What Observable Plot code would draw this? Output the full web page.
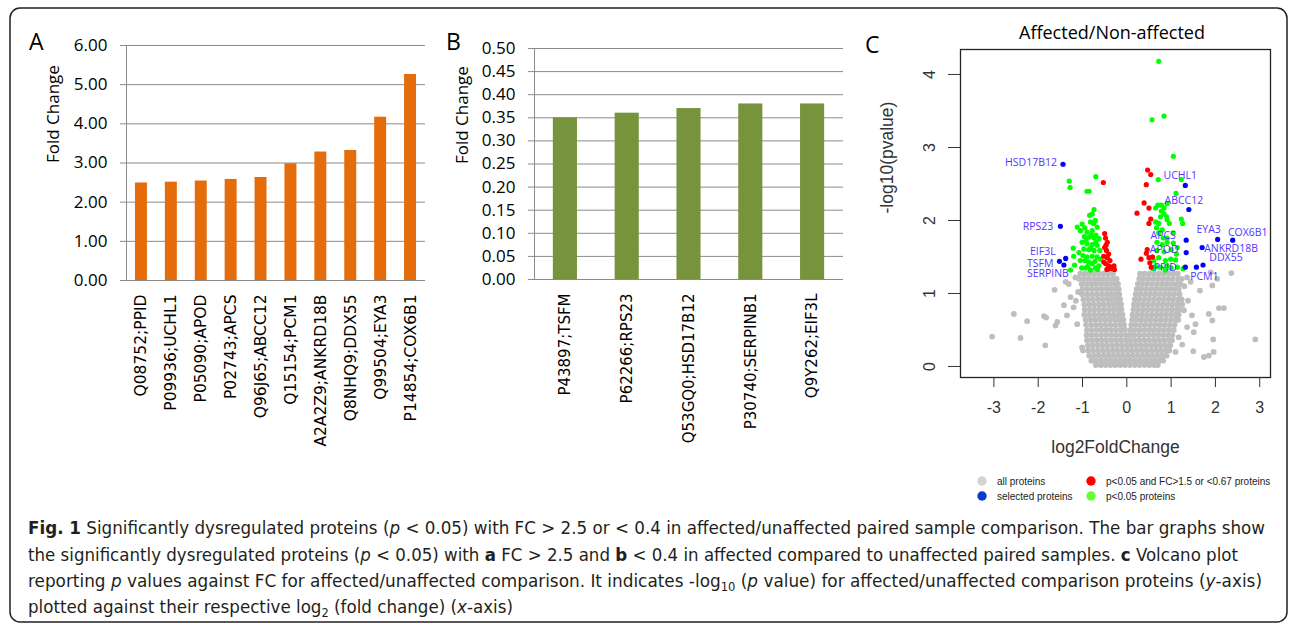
<!DOCTYPE html>
<html><head><meta charset="utf-8">
<script src="https://cdn.jsdelivr.net/npm/d3@7"></script>
<script src="https://cdn.jsdelivr.net/npm/@observablehq/plot@0.6"></script>
<style>
html,body{margin:0;padding:0;background:#fff;}
#root{position:relative;width:1290px;height:626px;overflow:hidden;background:#fff;}
.panel{position:absolute;top:0;}
#overlay{position:absolute;left:0;top:0;pointer-events:none;}
</style></head><body><div id="root"></div>
<script>
// ---------- Panel A : FC > 2.5 ----------
const upCats = ["Q08752;PPID","P09936;UCHL1","P05090;APOD","P02743;APCS","Q96J65;ABCC12","Q15154;PCM1","A2A2Z9;ANKRD18B","Q8NHQ9;DDX55","Q99504;EYA3","P14854;COX6B1"];
const upValues = [2.49,2.51,2.54,2.58,2.63,2.98,3.28,3.32,4.17,5.26];
const upTicks = [0,1,2,3,4,5,6];

// ---------- Panel B : FC < 0.4 ----------
const downCats = ["P43897;TSFM","P62266;RPS23","Q53GQ0;HSD17B12","P30740;SERPINB1","Q9Y262;EIF3L"];
const downValues = [0.35,0.36,0.37,0.38,0.38];
const downTicks = [0,0.05,0.10,0.15,0.20,0.25,0.30,0.35,0.40,0.45,0.50];

// ---------- Panel C : volcano ----------
const volXTicks = [-3,-2,-1,0,1,2,3];
const volYTicks = [0,1,2,3,4];
const selNames = ["HSD17B12","RPS23","EIF3L","TSFM","SERPINB","UCHL1","ABCC12","APCS","APOD","PPID","EYA3","COX6B1","ANKRD18B","DDX55","PCM1"];
const selX = [-1.44,-1.50,-1.38,-1.52,-1.42,1.32,1.40,1.34,1.34,1.32,2.05,2.39,1.70,1.72,1.57];
const selY = [2.77,1.92,1.48,1.44,1.39,2.48,2.15,1.73,1.56,1.36,1.74,1.73,1.63,1.39,1.36];

const greenPts = [
 [-1.30,2.54],[-1.28,2.45],[-0.70,2.60],[-0.90,2.40],[-0.85,2.40],[-0.74,2.15],[-0.78,2.09],[-0.84,2.07],[-0.71,2.00],[-0.82,1.98],
 [-0.67,1.91],[-1.01,1.95],[-1.12,1.91],[-1.05,1.86],[-0.90,1.84],[-0.78,1.86],[-0.96,1.78],[-0.86,1.77],[-0.74,1.76],[-0.63,1.75],
 [-1.01,1.70],[-0.90,1.68],[-0.78,1.67],[-0.67,1.66],[-1.21,1.62],[-0.97,1.61],[-0.86,1.60],[-0.74,1.59],[-0.61,1.59],[-1.20,1.51],
 [-0.99,1.52],[-0.90,1.50],[-0.78,1.51],[-0.67,1.50],[-0.59,1.47],[-1.18,1.39],[-0.93,1.35],[-0.78,1.41],[-0.71,1.35],[-0.63,1.38],
 [-1.27,1.32],[-0.82,1.32],[-1.05,1.45],[-0.86,1.43],[-0.95,1.90],[-0.70,1.80],[-0.92,1.72],[-0.70,1.70],[-0.82,1.62],[-1.08,1.56],
 [-0.95,1.45],[-0.72,1.44],[-0.88,1.37],[-1.02,1.35],[-0.66,1.33],[-0.80,1.80],[-0.75,1.96],
 [0.72,4.18],[0.57,3.38],[0.84,3.43],[1.05,2.88],[0.71,2.56],[1.23,2.56],[1.11,2.37],[0.65,2.17],[0.70,2.21],[0.78,2.21],
 [0.84,2.17],[0.91,2.23],[0.78,2.13],[0.84,2.09],[0.90,2.05],[0.65,1.98],[0.72,1.96],[0.67,1.90],[0.91,2.01],[0.96,1.96],
 [1.23,2.02],[1.26,1.96],[0.72,1.83],[0.82,1.76],[0.91,1.76],[1.05,1.83],[0.68,1.70],[0.80,1.67],[0.91,1.70],[1.05,1.69],
 [1.14,1.63],[0.68,1.59],[0.84,1.57],[1.00,1.60],[1.12,1.54],[0.61,1.45],[0.72,1.49],[0.87,1.45],[0.99,1.47],[1.10,1.46],
 [0.65,1.37],[0.76,1.36],[0.87,1.32],[1.00,1.35],[1.14,1.36],[1.27,1.34],[0.59,1.34],[0.91,1.38],[0.80,1.87],[0.76,2.05]
];
const redPts = [
 [-0.53,2.52],[-0.50,1.82],[-0.48,1.76],[-0.44,1.70],[-0.50,1.63],[-0.46,1.59],[-0.52,1.51],[-0.44,1.49],[-0.38,1.45],[-0.48,1.41],
 [-0.41,1.38],[-0.33,1.36],[-0.28,1.33],[-0.37,1.34],[-0.52,1.43],[-0.41,1.54],[-0.29,1.38],[-0.47,1.66],[-0.45,1.33],
 [0.47,2.69],[0.54,2.63],[0.44,2.49],[0.39,2.24],[0.23,2.10],[0.50,2.17],[0.54,2.02],[0.50,1.96],[0.46,1.60],[0.32,1.47],
 [0.50,1.49],[0.52,1.42],[0.55,1.36],[0.44,1.55],[0.58,1.50]
];
// dense cloud of non-significant proteins: [y, x1, x2, ...]
const grayRows = [
 [1.27,-1.05,-0.95,-0.85,-0.74,-0.63,-0.52,-0.42,-0.31,0.30,0.40,0.51,0.62,0.73,0.84,0.95,1.06,1.15],
 [1.20,-1.08,-0.97,-0.86,-0.75,-0.64,-0.54,-0.43,-0.32,-0.23,0.28,0.38,0.49,0.60,0.71,0.82,0.93,1.04,1.16,1.24],
 [1.13,-1.02,-0.91,-0.80,-0.70,-0.59,-0.48,-0.37,-0.27,-0.20,0.25,0.35,0.46,0.57,0.68,0.79,0.90,1.01,1.12,1.21],
 [1.06,-1.00,-0.89,-0.78,-0.67,-0.56,-0.45,-0.35,-0.25,-0.18,0.22,0.32,0.43,0.54,0.65,0.76,0.87,0.98,1.09,1.17],
 [0.99,-1.01,-0.90,-0.79,-0.68,-0.57,-0.46,-0.36,-0.26,-0.17,0.20,0.30,0.41,0.52,0.63,0.74,0.85,0.96,1.07,1.19],
 [0.92,-0.98,-0.87,-0.76,-0.65,-0.54,-0.43,-0.33,-0.23,-0.15,0.18,0.28,0.39,0.50,0.61,0.72,0.83,0.94,1.05,1.16,1.24],
 [0.85,-0.96,-0.85,-0.74,-0.63,-0.52,-0.41,-0.31,-0.21,-0.13,0.16,0.26,0.37,0.48,0.59,0.70,0.81,0.92,1.03,1.14,1.25],
 [0.78,-0.95,-0.84,-0.73,-0.62,-0.51,-0.40,-0.30,-0.20,-0.12,0.15,0.25,0.36,0.47,0.58,0.69,0.80,0.91,1.02,1.13,1.21],
 [0.71,-0.96,-0.85,-0.74,-0.63,-0.52,-0.41,-0.30,-0.19,-0.10,0.13,0.23,0.34,0.45,0.56,0.67,0.78,0.89,1.00,1.10,1.17],
 [0.64,-0.93,-0.82,-0.71,-0.60,-0.49,-0.38,-0.27,-0.17,-0.08,0.12,0.22,0.33,0.44,0.55,0.66,0.77,0.88,0.99,1.10,1.16],
 [0.57,-0.92,-0.81,-0.70,-0.59,-0.48,-0.37,-0.26,-0.15,-0.06,0.10,0.20,0.31,0.42,0.53,0.64,0.75,0.86,0.97,1.08],
 [0.50,-0.90,-0.79,-0.68,-0.57,-0.46,-0.35,-0.24,-0.13,-0.04,0.08,0.18,0.29,0.40,0.51,0.62,0.73,0.84,0.95,1.06],
 [0.43,-0.91,-0.80,-0.69,-0.58,-0.47,-0.36,-0.25,-0.14,-0.03,0.06,0.16,0.27,0.38,0.49,0.60,0.71,0.82,0.93,1.03],
 [0.36,-0.90,-0.79,-0.68,-0.57,-0.46,-0.35,-0.24,-0.13,-0.02,0.08,0.18,0.29,0.40,0.51,0.62,0.73,0.84,0.95,1.02],
 [0.29,-0.88,-0.77,-0.66,-0.55,-0.44,-0.33,-0.22,-0.11,0.00,0.10,0.21,0.32,0.43,0.54,0.65,0.76,0.87,0.98],
 [0.22,-0.87,-0.76,-0.65,-0.54,-0.43,-0.32,-0.21,-0.10,0.01,0.12,0.23,0.34,0.45,0.56,0.67,0.78,0.89,0.96],
 [0.15,-0.85,-0.74,-0.63,-0.52,-0.41,-0.30,-0.19,-0.08,0.03,0.14,0.25,0.36,0.47,0.58,0.69,0.80,0.90],
 [0.08,-0.80,-0.69,-0.58,-0.47,-0.36,-0.25,-0.14,-0.03,0.08,0.19,0.30,0.41,0.52,0.63,0.74,0.82],
 [0.02,-0.70,-0.59,-0.48,-0.37,-0.26,-0.15,-0.04,0.07,0.18,0.29,0.40,0.51,0.62,0.70]
];
const grayOutliers = [
 [-3.04,0.41],[-2.55,0.72],[-2.25,0.62],[-2.40,0.39],[-1.84,0.29],[-1.87,0.69],[-1.82,0.67],[-1.63,1.05],[-1.61,0.56],[-1.57,0.61],
 [-1.42,0.84],[-1.38,1.16],[-1.31,1.13],[-1.27,0.95],[-1.35,0.70],[-1.20,0.81],[-1.16,1.22],[-1.12,0.58],[-1.01,0.26],[-0.99,0.22],
 [-1.10,1.02],[-1.15,0.90],
 [1.36,1.22],[1.44,1.16],[1.47,0.70],[1.51,0.47],[1.55,0.58],[1.50,0.21],[1.65,1.04],[1.74,0.13],[1.85,0.15],[1.85,0.72],
 [1.89,1.29],[1.93,1.11],[1.93,0.63],[1.95,0.37],[1.96,0.20],[2.08,0.80],[2.19,0.80],[2.36,1.28],[2.90,0.37],[2.04,1.20],
 [1.38,0.90],[1.29,0.77],[1.36,0.54],[1.17,0.40],[1.25,0.30],[1.10,0.20],[1.30,1.10]
];
const legendLabels = ["all proteins","selected proteins","p<0.05 and FC>1.5 or <0.67 proteins","p<0.05 proteins"];
const legendColors = ["#d3d3d3","#0a3ccc","#ff0000","#66ff33"];

// label placement (pixel offsets, anchors) – layout only
const labelLayout = {
  HSD17B12:{dx:-6,dy:-2,a:"end"}, RPS23:{dx:-7,dy:0,a:"end"}, EIF3L:{dx:-10,dy:-7,a:"end"},
  TSFM:{dx:-6,dy:2,a:"end"}, SERPINB:{dx:5,dy:9,a:"end"}, UCHL1:{dx:-5,dy:-10,a:"middle"},
  ABCC12:{dx:-5,dy:-9,a:"middle"}, APCS:{dx:-23,dy:-5,a:"middle"}, APOD:{dx:-22,dy:-3,a:"middle"},
  PPID:{dx:-20,dy:0,a:"middle"}, EYA3:{dx:-9,dy:-10,a:"middle"}, COX6B1:{dx:15,dy:-8,a:"middle"},
  ANKRD18B:{dx:2,dy:1,a:"start"}, DDX55:{dx:23,dy:-7,a:"middle"}, PCM1:{dx:8,dy:9,a:"middle"}
};

const root = document.getElementById("root");
function place(node, left, width){ const d=document.createElement("div"); d.className="panel"; d.style.left=left+"px"; d.style.width=width+"px"; d.appendChild(node); root.appendChild(d); }

const gridCol = "#8a8a8a";
const tickFont = "'Open Sans', sans-serif";
const catFont = "'DejaVu Sans', Verdana, sans-serif";

// Panel A
const dataA = upCats.map((c,i)=>({cat:c, value:upValues[i]}));
place(Plot.plot({
  width:440, height:480, marginLeft:126, marginRight:15, marginTop:45, marginBottom:200,
  x:{domain:upCats, paddingInner:0.6, paddingOuter:0.3, round:false, axis:null},
  y:{domain:[0,6], axis:null},
  style:{fontFamily:tickFont, background:"transparent", color:"#000"},
  marks:[
    Plot.gridY(upTicks,{stroke:gridCol, strokeOpacity:1}),
    Plot.frame({anchor:"left", stroke:gridCol}),
    Plot.barY(dataA,{x:"cat", y:"value", fill:"#e46c0a"}),
    Plot.axisY(upTicks,{tickSize:6, tickPadding:13, tickFormat:d3.format(".2f"), fontSize:17, stroke:gridCol, fill:"#000", label:null}),
    Plot.text(dataA,{x:"cat", text:"cat", frameAnchor:"bottom", rotate:-90, textAnchor:"end", lineAnchor:"middle", dy:14, fontSize:15.5, fontFamily:catFont, fill:"#000"}),
    Plot.text(["Fold Change"],{frameAnchor:"left", dx:-73, rotate:-90, fontSize:17, fill:"#000"})
  ]
}), 0, 440);

// Panel B
const dataB = downCats.map((c,i)=>({cat:c, value:downValues[i]}));
place(Plot.plot({
  width:420, height:480, marginLeft:104, marginRight:7, marginTop:48, marginBottom:201,
  x:{domain:downCats, paddingInner:0.61, paddingOuter:0.305, round:false, axis:null},
  y:{domain:[0,0.5], axis:null},
  style:{fontFamily:tickFont, background:"transparent", color:"#000"},
  marks:[
    Plot.gridY(downTicks,{stroke:gridCol, strokeOpacity:1}),
    Plot.frame({anchor:"left", stroke:gridCol}),
    Plot.barY(dataB,{x:"cat", y:"value", fill:"#77933c"}),
    Plot.axisY(downTicks,{tickSize:6, tickPadding:13, tickFormat:d3.format(".2f"), fontSize:17, stroke:gridCol, fill:"#000", label:null}),
    Plot.text(dataB,{x:"cat", text:"cat", frameAnchor:"bottom", rotate:-90, textAnchor:"end", lineAnchor:"middle", dy:14, fontSize:15, fontFamily:catFont, fill:"#000"}),
    Plot.text(["Fold Change"],{frameAnchor:"left", dx:-72, rotate:-90, fontSize:17, fill:"#000"})
  ]
}), 430, 420);

// Panel C
const grayData = grayRows.flatMap(r => r.slice(1).map(x => ({x, y:r[0]}))).concat(grayOutliers.map(([x,y])=>({x,y})));
const greenData = greenPts.map(([x,y])=>({x,y}));
const redData = redPts.map(([x,y])=>({x,y}));
const selData = selNames.map((n,i)=>({name:n, x:selX[i], y:selY[i]}));
const labelCol = "#5533ff";
const labelMarks = selData.map(d => Plot.text([d],{x:"x", y:"y", text:"name", dx:labelLayout[d.name].dx, dy:labelLayout[d.name].dy, textAnchor:labelLayout[d.name].a, fill:labelCol, fontSize:10.5, fontFamily:"'Open Sans', sans-serif"}));
place(Plot.plot({
  width:440, height:470, marginLeft:110, marginRight:20, marginTop:49, marginBottom:93,
  x:{domain:[-3.754,3.243], axis:null},
  y:{domain:[-0.151,4.342], axis:null},
  style:{fontFamily:"'Liberation Sans', Arial, sans-serif", background:"transparent", color:"#333"},
  marks:[
    Plot.dot(grayData,{x:"x", y:"y", r:2.9, fill:"#bebebe"}),
    Plot.dot(greenData,{x:"x", y:"y", r:2.6, fill:"#00ff00"}),
    Plot.dot(redData,{x:"x", y:"y", r:2.6, fill:"#ff0000"}),
    Plot.dot(selData,{x:"x", y:"y", r:2.6, fill:"#0000ff"}),
    ...labelMarks,
    Plot.frame({stroke:"#222", strokeWidth:1.3}),
    Plot.axisX(volXTicks,{tickSize:10, tickPadding:14, tickFormat:d=>String(d), fontSize:16, stroke:"#333", fill:"#333", label:null}),
    Plot.axisY(volYTicks,{tickSize:12, tickPadding:14, tickRotate:-90, tickFormat:d=>String(d), fontSize:16, stroke:"#333", fill:"#333", label:null}),
    Plot.text(["log2FoldChange"],{frameAnchor:"bottom", dy:75, fontSize:17.5, fill:"#333"}),
    Plot.text(["-log10(pvalue)"],{frameAnchor:"left", dx:-73, rotate:-90, fontSize:17.5, fill:"#333"})
  ]
}), 850, 440);

// Overlay: frame, panel letters, title, legend, caption
const ov = d3.select(root).append("svg").attr("id","overlay").attr("width",1290).attr("height",626);
ov.append("rect").attr("x",10).attr("y",8).attr("width",1277).attr("height",614).attr("rx",10)
  .attr("fill","none").attr("stroke","#231f20").attr("stroke-width",1.5);
const letters = [["A",29,50],["B",446,50],["C",865,53]];
ov.selectAll("text.letter").data(letters).join("text").attr("class","letter")
  .attr("x",d=>d[1]).attr("y",d=>d[2]).text(d=>d[0])
  .attr("font-family","'Open Sans', sans-serif").attr("font-size",23).attr("fill","#000");
ov.append("text").attr("x",1112).attr("y",39).attr("text-anchor","middle")
  .attr("font-family","'Open Sans', sans-serif").attr("font-size",18).attr("fill","#000").text("Affected/Non-affected");
const legPos = [[982,481],[982,496],[1091,481],[1091,496]];
legendLabels.forEach((t,i)=>{
  ov.append("circle").attr("cx",legPos[i][0]).attr("cy",legPos[i][1]).attr("r",4.7).attr("fill",legendColors[i]);
  ov.append("text").attr("x",legPos[i][0]+15).attr("y",legPos[i][1]+3.5).attr("font-family","'Liberation Sans', Arial, sans-serif")
    .attr("font-size",10).attr("fill","#222").text(t);
});
const capFont = "'Liberation Sans Narrow','DejaVu Sans Condensed','Liberation Sans',sans-serif";
const capLines = [
 {y:534, len:1237, html:'<tspan font-weight="bold">Fig. 1</tspan> Significantly dysregulated proteins (<tspan font-style="italic">p</tspan> &lt; 0.05) with FC &gt; 2.5 or &lt; 0.4 in affected/unaffected paired sample comparison. The bar graphs show'},
 {y:560.5, len:1210, html:'the significantly dysregulated proteins (<tspan font-style="italic">p</tspan> &lt; 0.05) with <tspan font-weight="bold">a</tspan> FC &gt; 2.5 and <tspan font-weight="bold">b</tspan> &lt; 0.4 in affected compared to unaffected paired samples. <tspan font-weight="bold">c</tspan> Volcano plot'},
 {y:587, len:1234, html:'reporting <tspan font-style="italic">p</tspan> values against FC for affected/unaffected comparison. It indicates -log<tspan baseline-shift="-4" font-size="12">10</tspan> (<tspan font-style="italic">p</tspan> value) for affected/unaffected comparison proteins (<tspan font-style="italic">y</tspan>-axis)'},
 {y:613, len:485, html:'plotted against their respective log<tspan baseline-shift="-4" font-size="12">2</tspan> (fold change) (<tspan font-style="italic">x</tspan>-axis)'}
];
capLines.forEach(l=>{
  ov.append("text").attr("x",28).attr("y",l.y).attr("font-family",capFont).attr("font-size",17.5)
    .attr("fill","#231f20").attr("textLength",l.len).attr("lengthAdjust","spacingAndGlyphs").html(l.html);
});
</script></body></html>
